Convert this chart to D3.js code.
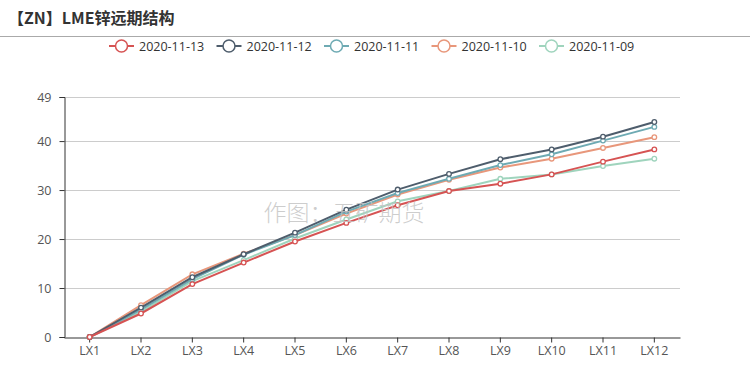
<!DOCTYPE html>
<html><head><meta charset="utf-8">
<script src="https://cdn.jsdelivr.net/npm/d3@7"></script>
<style>
body{margin:0;background:#fff;}
svg{display:block;font-family:"Microsoft YaHei","Noto Sans CJK SC","Open Sans",sans-serif;}
</style></head>
<body>
<svg id="chart" width="750" height="381"></svg>
<script>
const categories = ["LX1","LX2","LX3","LX4","LX5","LX6","LX7","LX8","LX9","LX10","LX11","LX12"];
const seriesNames = ["2020-11-13","2020-11-12","2020-11-11","2020-11-10","2020-11-09"];
const s20201113 = [0, 4.8, 10.8, 15.2, 19.5, 23.3, 26.9, 29.8, 31.3, 33.2, 35.8, 38.3];
const s20201112 = [0, 6.0, 12.2, 16.9, 21.3, 26.0, 30.1, 33.3, 36.3, 38.3, 40.9, 43.9];
const s20201111 = [0, 5.6, 11.8, 16.8, 20.8, 25.6, 29.4, 32.3, 35.1, 37.3, 40.1, 42.9];
const s20201110 = [0, 6.5, 12.8, 17.0, 20.8, 25.2, 29.1, 32.1, 34.6, 36.4, 38.6, 40.8];
const s20201109 = [0, 5.2, 11.4, 15.7, 20.1, 24.0, 27.7, 29.8, 32.3, 33.2, 34.9, 36.4];
const seriesValues = [s20201113, s20201112, s20201111, s20201110, s20201109];
const colors = ["#d65353", "#4e5d6c", "#6eaab3", "#e8977b", "#9fd4bd"];
const yTicks = [0, 10, 20, 30, 40, 49];
const yMax = 49;

(function () {
const svg = d3.select("#chart");
const mLeft = 64, mRight = 680, mTop = 97, mBottom = 337;

// title
svg.append("text").attr("x", 8).attr("y", 24).attr("font-size", 16).attr("font-weight", "bold")
  .attr("fill", "#333").text("【ZN】LME锌远期结构");
svg.append("line").attr("x1", 0).attr("x2", 750).attr("y1", 36.5).attr("y2", 36.5)
  .attr("stroke", "#aaa").attr("stroke-width", 1);

const x = d3.scaleBand().domain(categories).range([mLeft, mRight]).paddingInner(0).paddingOuter(0);
const y = d3.scaleLinear().domain([0, yMax]).range([mBottom, mTop]);
const cx = d => x(d) + x.bandwidth() / 2;

// grid
svg.append("g").selectAll("line").data(yTicks.filter(t => t > 0)).join("line")
  .attr("x1", mLeft).attr("x2", mRight)
  .attr("y1", d => Math.round(y(d)) + 0.5).attr("y2", d => Math.round(y(d)) + 0.5)
  .attr("stroke", "#ccc").attr("stroke-width", 1);

// y axis
const yAxis = d3.axisLeft(y).tickValues(yTicks).tickSize(5).tickPadding(8).tickFormat(d3.format("d"));
const gy = svg.append("g").attr("transform", `translate(${mLeft + 0.5},0)`).call(yAxis);
gy.select(".domain").attr("stroke", "#333");
gy.selectAll(".tick line").attr("stroke", "#333");
gy.selectAll(".tick text").attr("font-size", 12.5).attr("fill", "#555").attr("font-family", "'Open Sans',sans-serif");

// x axis
const xAxis = d3.axisBottom(x).tickSize(5).tickPadding(4).tickSizeOuter(0);
const gx = svg.append("g").attr("transform", `translate(0,${mBottom + 0.5})`).call(xAxis);
gx.select(".domain").attr("stroke", "#333");
gx.selectAll(".tick line").attr("stroke", "#333");
gx.selectAll(".tick text").attr("font-size", 12.5).attr("fill", "#555").attr("font-family", "'Open Sans',sans-serif");

// lines (draw in reverse so first series on top)
const line = d3.line().x((d, i) => cx(categories[i])).y(d => y(d));
const order = [4, 3, 2, 1, 0];
order.forEach(k => {
  const g = svg.append("g");
  g.append("path").datum(seriesValues[k]).attr("d", line)
    .attr("fill", "none").attr("stroke", colors[k]).attr("stroke-width", 2);
  g.selectAll("circle").data(seriesValues[k]).join("circle")
    .attr("cx", (d, i) => cx(categories[i])).attr("cy", d => y(d)).attr("r", 2.3)
    .attr("fill", "#fff").attr("stroke", colors[k]).attr("stroke-width", 1.3);
});

// watermark (drawn above)
svg.append("text").attr("x", 344).attr("y", 221).attr("text-anchor", "middle")
  .attr("font-size", 23).attr("font-weight", 300).attr("fill", "#c4c4c4").attr("fill-opacity", 0.85)
  .attr("font-family", "'Noto Sans CJK SC',sans-serif")
  .text("作图：五矿期货");

// legend
const legendX0 = 109, legendStep = 107.5, legendY = 46;
seriesNames.forEach((name, k) => {
  const g = svg.append("g").attr("transform", `translate(${legendX0 + k * legendStep},${legendY})`);
  g.append("line").attr("x1", 0).attr("x2", 25).attr("y1", 0).attr("y2", 0)
    .attr("stroke", colors[k]).attr("stroke-width", 2);
  g.append("circle").attr("cx", 12.5).attr("cy", 0).attr("r", 6)
    .attr("fill", "#fff").attr("stroke", colors[k]).attr("stroke-width", 1.5);
  g.append("text").attr("x", 30).attr("y", 4.5).attr("font-size", 12.5).attr("fill", "#333")
    .attr("font-family", "'Open Sans',sans-serif").text(name);
});
})();
</script>
</body></html>
